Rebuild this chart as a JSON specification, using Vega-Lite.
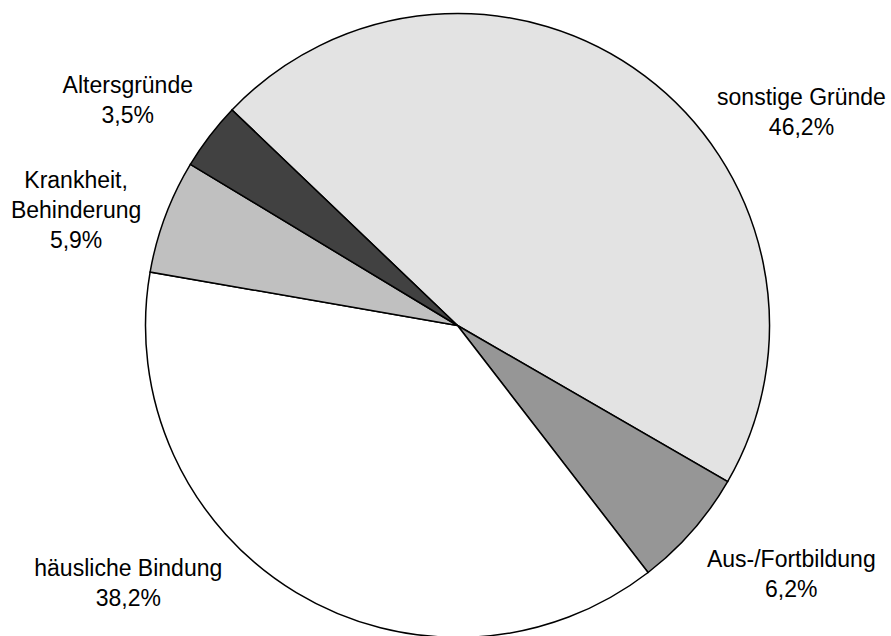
{
  "$schema": "https://vega.github.io/schema/vega-lite/v6.json",
  "width": 869,
  "height": 623,
  "autosize": "none",
  "padding": {"left": 23, "top": 14, "right": 0, "bottom": 0},
  "background": "white",
  "config": {"view": {"stroke": null}, "text": {"font": "Liberation Sans"}},
  "data": {
    "values": [
      {"grund": "sonstige Gründe", "anteil": 46.2, "rang": 1, "beschriftung": "sonstige Gründe\n46,2%"},
      {"grund": "Aus-/Fortbildung", "anteil": 6.2, "rang": 2, "beschriftung": "Aus-/Fortbildung\n6,2%"},
      {"grund": "häusliche Bindung", "anteil": 38.2, "rang": 3, "beschriftung": "häusliche Bindung\n38,2%"},
      {"grund": "Krankheit, Behinderung", "anteil": 5.9, "rang": 4, "beschriftung": "Krankheit,\nBehinderung\n5,9%"},
      {"grund": "Altersgründe", "anteil": 3.5, "rang": 5, "beschriftung": "Altersgründe\n3,5%"}
    ]
  },
  "encoding": {
    "theta": {
      "field": "anteil",
      "type": "quantitative",
      "stack": true,
      "scale": {"range": [-0.808, 5.4752]}
    },
    "order": {"field": "rang", "type": "quantitative"}
  },
  "layer": [
    {
      "mark": {"type": "arc", "radius": 312, "stroke": "black", "strokeWidth": 1.5},
      "encoding": {
        "color": {
          "field": "grund",
          "type": "nominal",
          "scale": {
            "domain": ["sonstige Gründe", "Aus-/Fortbildung", "häusliche Bindung", "Krankheit, Behinderung", "Altersgründe"],
            "range": ["#e3e3e3", "#969696", "#ffffff", "#c0c0c0", "#414141"]
          },
          "legend": null
        }
      }
    },
    {
      "mark": {
        "type": "text",
        "radius": 405,
        "fontSize": 23,
        "lineHeight": 30,
        "lineBreak": "\n",
        "align": "center",
        "baseline": "middle",
        "color": "black",
        "dx": {"expr": "datum.rang == 1 ? 101 : datum.rang == 2 ? 29 : datum.rang == 3 ? -120 : datum.rang == 4 ? -2 : -8"},
        "dy": {"expr": "datum.rang == 1 ? 97 : datum.rang == 2 ? -32 : datum.rang == 3 ? -103 : datum.rang == 4 ? -3 : 7"}
      },
      "encoding": {
        "text": {"field": "beschriftung", "type": "nominal"}
      }
    }
  ]
}
